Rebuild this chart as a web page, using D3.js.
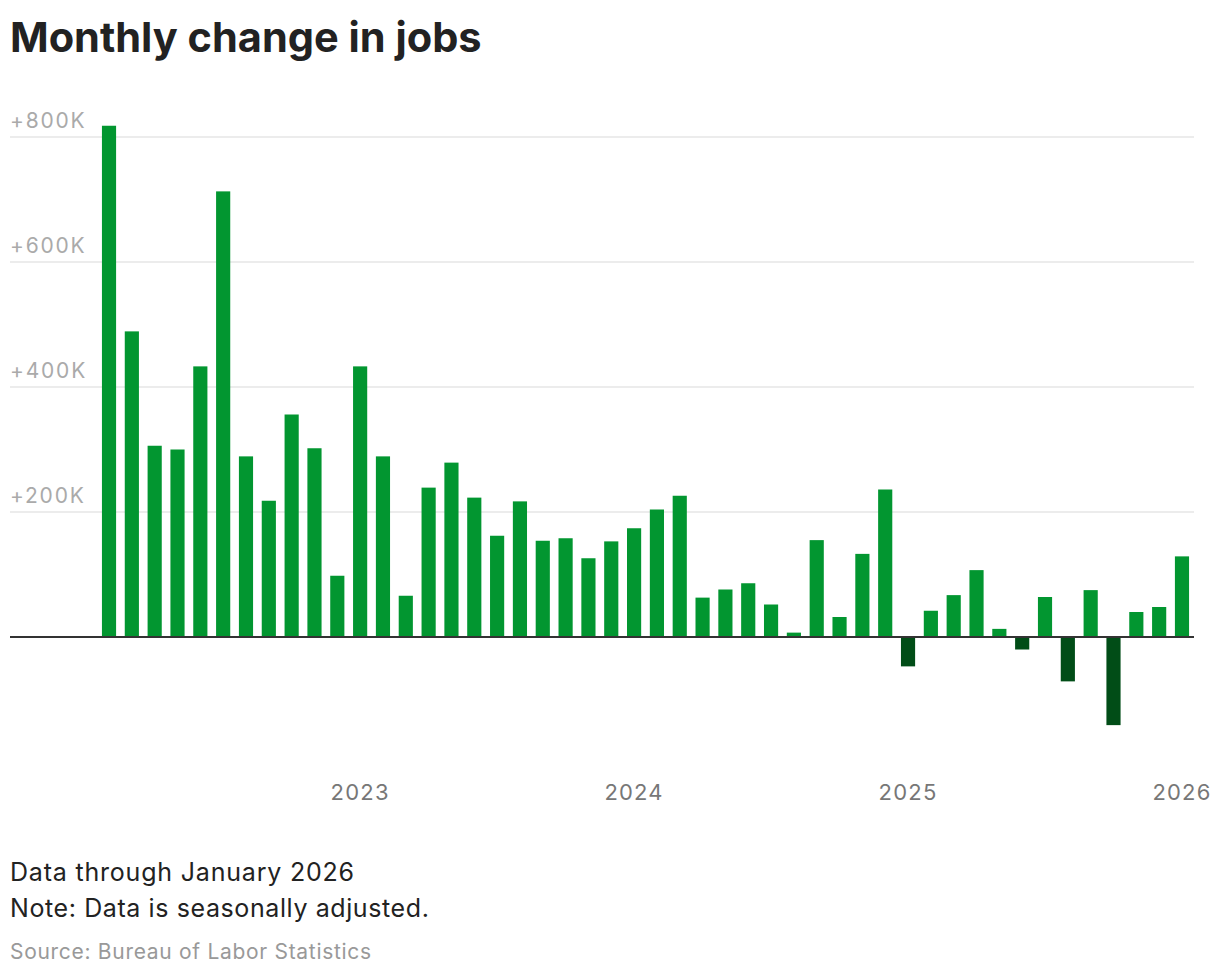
<!DOCTYPE html>
<html>
<head>
<meta charset="utf-8">
<script src="https://cdn.jsdelivr.net/npm/d3@7"></script>
<style>
  body { margin: 0; background: #fff; }
  svg text { font-family: Inter, Lato, sans-serif; }
</style>
</head>
<body>
<div id="chart"></div>
<script>
// monthly change in payrolls, Feb 2022 .. Jan 2026 (thousands)
const months = d3.timeMonths(new Date(2022, 1, 1), new Date(2026, 1, 1));
const values = [
  818, 489, 306, 300, 433, 713, 289, 218, 356, 302, 98,
  433, 289, 66, 239, 279, 223, 162, 217, 154, 158, 126, 153,
  174, 204, 226, 63, 76, 86, 52, 7, 155, 32, 133, 236,
  -47, 42, 67, 107, 13, -20, 64, -71, 75, -141, 40, 48,
  129
];
const yTicks = [200, 400, 600, 800];
const xTickYears = [2023, 2024, 2025, 2026];

const width = 1220, height = 978;
const plotLeft = 10, plotRight = 1194;

const svg = d3.select("#chart").append("svg")
    .attr("width", width)
    .attr("height", height);

const data = months.map(function (m, i) { return { date: m, value: values[i] } });

const x = d3.scaleBand()
    .domain(data.map(function (d) { return d.date }))
    .range([97.6, 1193.4])
    .paddingInner(0.38)
    .paddingOuter(0.19);

const y = d3.scaleLinear()
    .domain([-200, 800])
    .range([762, 137]);

// title
svg.append("text")
    .attr("x", 10)
    .attr("y", 52)
    .attr("font-size", 41.5)
    .attr("font-weight", 700)
    .attr("fill", "#222")
    .text("Monthly change in jobs");

// gridlines
svg.append("g")
    .selectAll("line")
    .data(yTicks)
    .join("line")
    .attr("x1", plotLeft)
    .attr("x2", plotRight)
    .attr("y1", function (d) { return y(d) })
    .attr("y2", function (d) { return y(d) })
    .attr("stroke", "#e6e6e6")
    .attr("stroke-width", 1.5);

svg.append("g")
    .selectAll("text")
    .data(yTicks)
    .join("text")
    .attr("x", plotLeft)
    .attr("y", function (d) { return y(d) - 9 })
    .attr("font-size", 21)
    .attr("letter-spacing", 1.8)
    .attr("fill", "#aaa")
    .text(function (d) { return "+" + d + "K" });

// bars
svg.append("g")
    .selectAll("rect")
    .data(data)
    .join("rect")
    .attr("x", function (d) { return x(d.date) })
    .attr("width", x.bandwidth())
    .attr("y", function (d) { return y(Math.max(0, d.value)) })
    .attr("height", function (d) { return Math.abs(y(d.value) - y(0)) })
    .attr("fill", function (d) { return d.value < 0 ? "#014d17" : "#029630" });

// zero line
svg.append("line")
    .attr("x1", plotLeft)
    .attr("x2", plotRight)
    .attr("y1", y(0))
    .attr("y2", y(0))
    .attr("stroke", "#333")
    .attr("stroke-width", 2);

// year labels under January bars
svg.append("g")
    .selectAll("text")
    .data(xTickYears)
    .join("text")
    .attr("x", function (d) { return x(new Date(d, 0, 1)) + x.bandwidth() / 2 })
    .attr("y", 800)
    .attr("text-anchor", "middle")
    .attr("font-size", 22)
    .attr("letter-spacing", 1.2)
    .attr("fill", "#777")
    .text(function (d) { return d });

// footer
const notes = [
  { text: "Data through January 2026", y: 881, size: 25, spacing: 0.8, color: "#222" },
  { text: "Note: Data is seasonally adjusted.", y: 917, size: 25, spacing: 0.6, color: "#222" },
  { text: "Source: Bureau of Labor Statistics", y: 959, size: 21, spacing: 0.7, color: "#999" }
];
svg.append("g")
    .selectAll("text")
    .data(notes)
    .join("text")
    .attr("x", 10)
    .attr("y", function (d) { return d.y })
    .attr("font-size", function (d) { return d.size })
    .attr("letter-spacing", function (d) { return d.spacing })
    .attr("fill", function (d) { return d.color })
    .text(function (d) { return d.text });
</script>
</body>
</html>
